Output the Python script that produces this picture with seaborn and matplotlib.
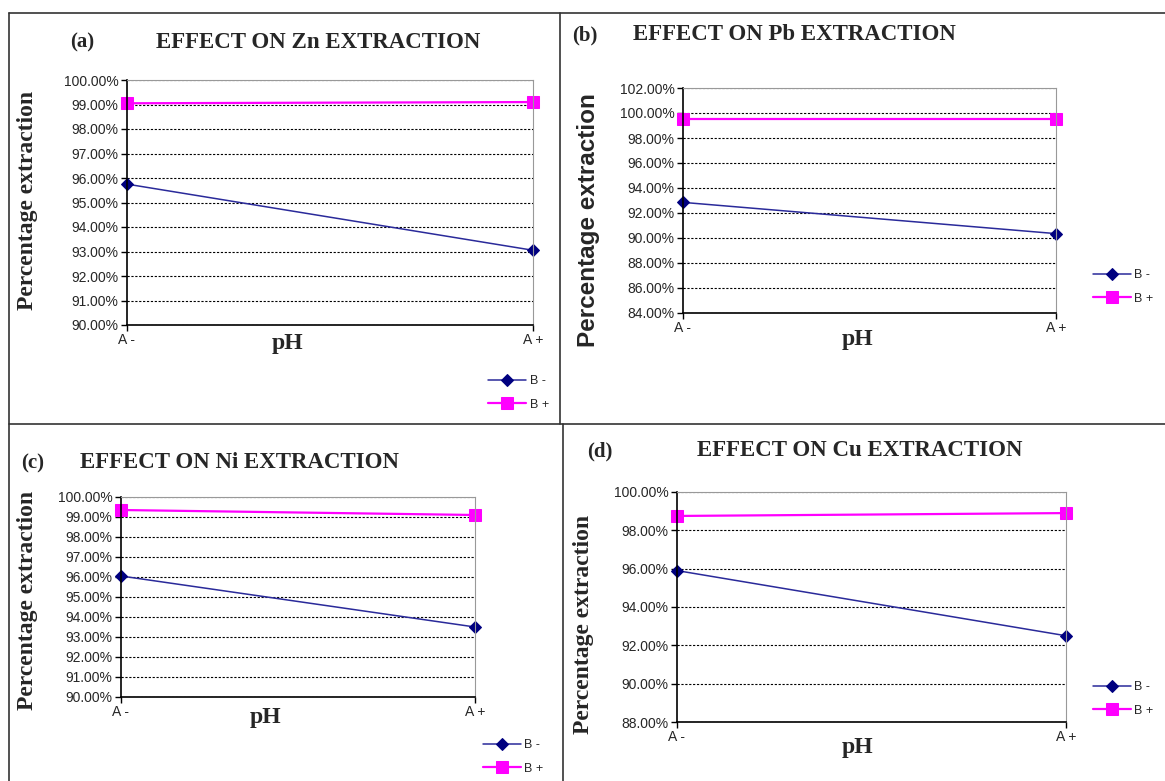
import pandas as pd
import numpy as np
import seaborn as sns
import matplotlib.pyplot as plt
from matplotlib.ticker import PercentFormatter, MultipleLocator
from matplotlib.lines import Line2D

sns.set_style('white')
plt.rcParams['font.family'] = ['Liberation Sans', 'DejaVu Sans']

levels = ['A -', 'A +']
series = ['B -', 'B +']

zn_b_minus = [95.75, 93.05]
zn_b_plus = [99.05, 99.10]
pb_b_minus = [92.85, 90.35]
pb_b_plus = [99.50, 99.50]
ni_b_minus = [96.05, 93.50]
ni_b_plus = [99.35, 99.10]
cu_b_minus = [95.90, 92.50]
cu_b_plus = [98.75, 98.90]

W, H = 1165, 781
fig = plt.figure(figsize=(W / 100, H / 100), dpi=100)


def px_axes(left, top, right, bottom):
    return fig.add_axes([left / W, (H - bottom) / H, (right - left) / W, (bottom - top) / H])


def fx(x):
    return x / W


def fy(y):
    return (H - y) / H


# panel frames
for (x0, y0, x1, y1) in [(9, 13, 1165, 13), (9, 13, 9, 781), (560, 13, 560, 424),
                         (9, 424, 1165, 424), (563, 424, 563, 781)]:
    fig.add_artist(Line2D([fx(x0), fx(x1)], [fy(y0), fy(y1)], color='#333333', lw=1.2))

panels = [
    dict(tag='(a)', title='EFFECT ON Zn EXTRACTION', bm=zn_b_minus, bp=zn_b_plus,
         box=(127, 80, 533, 325), ylim=(90, 100), step=1,
         tag_xy=(82, 42), title_xy=(318, 42), ylab_xy=(28, 200), ylab_serif=True, ylab_size=17,
         ph_xy=(287, 343), leg_xy=(560, 393)),
    dict(tag='(b)', title='EFFECT ON Pb EXTRACTION', bm=pb_b_minus, bp=pb_b_plus,
         box=(683, 88, 1056, 313), ylim=(84, 102), step=2,
         tag_xy=(585, 35), title_xy=(794, 35), ylab_xy=(588, 220), ylab_serif=False, ylab_size=17.5,
         ph_xy=(857, 340), leg_xy=(1165, 287)),
    dict(tag='(c)', title='EFFECT ON Ni EXTRACTION', bm=ni_b_minus, bp=ni_b_plus,
         box=(121, 497, 475, 697), ylim=(90, 100), step=1,
         tag_xy=(33, 463), title_xy=(240, 463), ylab_xy=(28, 600), ylab_serif=True, ylab_size=17,
         ph_xy=(265, 718), leg_xy=(555, 757)),
    dict(tag='(d)', title='EFFECT ON Cu EXTRACTION', bm=cu_b_minus, bp=cu_b_plus,
         box=(677, 492, 1066, 722), ylim=(88, 100), step=2,
         tag_xy=(600, 451), title_xy=(860, 451), ylab_xy=(584, 624), ylab_serif=True, ylab_size=17,
         ph_xy=(857, 748), leg_xy=(1165, 699)),
]

for p in panels:
    ax = px_axes(*p['box'])
    df = pd.DataFrame({'pH': levels * 2,
                       'value': p['bm'] + p['bp'],
                       'series': [series[0]] * 2 + [series[1]] * 2})
    sns.lineplot(data=df[df['series'] == 'B -'], x='pH', y='value', color='#2a2a9a',
                 marker='D', markersize=6, markerfacecolor='#000080', markeredgecolor='#000080',
                 lw=1.1, ax=ax, label='B -')
    sns.lineplot(data=df[df['series'] == 'B +'], x='pH', y='value', color='#ff00ff',
                 marker='s', markersize=9, markerfacecolor='#ff00ff', markeredgecolor='#ff00ff',
                 lw=1.6, ax=ax, label='B +')
    ax.set_xlim(0, 1)
    ax.set_ylim(*p['ylim'])
    ax.yaxis.set_major_locator(MultipleLocator(p['step']))
    ax.yaxis.set_major_formatter(PercentFormatter(decimals=2))
    ax.set_xticks([0, 1])
    ax.set_xticklabels(levels)
    ax.set_xlabel('')
    ax.set_ylabel('')
    ax.tick_params(axis='both', labelsize=10, length=4, width=1, direction='out', color='black',
                   pad=2, left=True, bottom=True)
    ax.grid(axis='y', color='black', linestyle=(0, (2, 1.5)), lw=0.8)
    ax.grid(axis='x', visible=False)
    ax.spines['left'].set_color('black')
    ax.spines['bottom'].set_color('black')
    ax.spines['top'].set_color('#999999')
    ax.spines['right'].set_color('#999999')
    ax.spines['left'].set_linewidth(1.2)
    ax.spines['bottom'].set_linewidth(1.2)
    ax.set_zorder(2)
    for ln in ax.lines:
        ln.set_clip_on(False)

    leg = ax.legend(loc='center right', bbox_to_anchor=(fx(p['leg_xy'][0]), fy(p['leg_xy'][1])),
                    bbox_transform=fig.transFigure, frameon=False, fontsize=9,
                    handlelength=3, labelspacing=0.9, handletextpad=0.3)

    fig.text(fx(p['tag_xy'][0]), fy(p['tag_xy'][1]), p['tag'], family='Liberation Serif',
             weight='bold', fontsize=15, ha='center', va='center')
    fig.text(fx(p['title_xy'][0]), fy(p['title_xy'][1]), p['title'], family='Liberation Serif',
             weight='bold', fontsize=16.5, ha='center', va='center')
    fig.text(fx(p['ph_xy'][0]), fy(p['ph_xy'][1]), 'pH', family='Liberation Serif',
             weight='bold', fontsize=17, ha='center', va='center')
    fig.text(fx(p['ylab_xy'][0]), fy(p['ylab_xy'][1]), 'Percentage extraction',
             family='Liberation Serif' if p['ylab_serif'] else 'Liberation Sans',
             weight='bold', fontsize=p['ylab_size'], rotation=90, ha='center', va='center')

fig.savefig('out.png', dpi=100)
